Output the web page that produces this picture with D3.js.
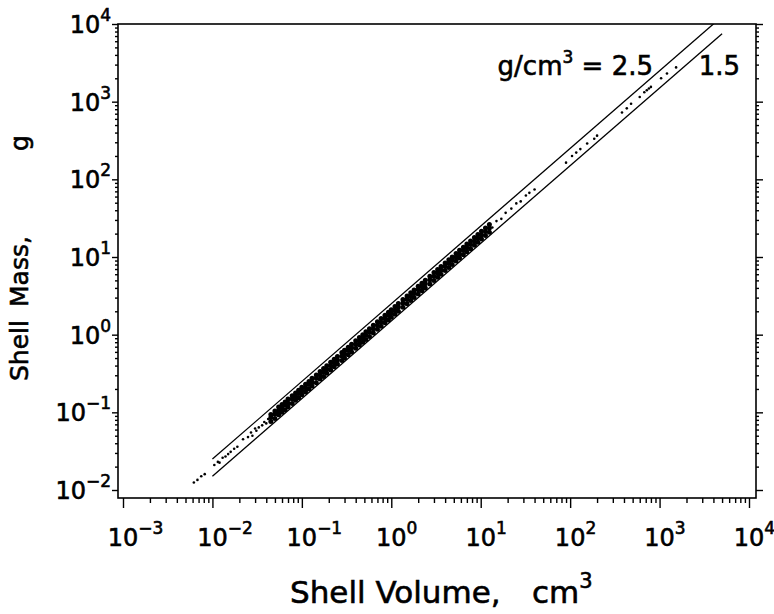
<!DOCTYPE html>
<html>
<head>
<meta charset="utf-8">
<script src="https://cdn.jsdelivr.net/npm/d3@7"></script>
<style>
    body { margin: 0; background: #fff; }
    text { font-family: "DejaVu Sans", "Liberation Sans", sans-serif; fill: #000; stroke: #000; stroke-width: 0.6px; }
</style>
</head>
<body>
<div id="chart"></div>
<script>

// tick exponents of the two log axes
const xTickExps = [-3, -2, -1, 0, 1, 2, 3, 4];
const yTickExps = [-2, -1, 0, 1, 2, 3, 4];

// reference density lines, g/cm3, drawn over this volume range
const densities = [2.5, 1.5];
const densityVolumeRange = [0.01, 5000];

// shells: [volume cm3, mass g], sparse small ones
const smallShells = [
    [0.0062, 0.0125], [0.0068, 0.0135], [0.0075, 0.015], [0.0082, 0.016],
    [0.0105, 0.021], [0.0115, 0.023], [0.012, 0.0225], [0.013, 0.026],
    [0.014, 0.027], [0.015, 0.029], [0.016, 0.031], [0.0175, 0.034],
    [0.019, 0.036], [0.022, 0.045], [0.025, 0.048], [0.027, 0.055],
    [0.028, 0.05], [0.030, 0.062], [0.031, 0.058], [0.033, 0.064],
    [0.036, 0.068], [0.038, 0.075], [0.040, 0.072], [0.042, 0.082]
];

// dense band: volume, then three masses read across the band
const bandShells = [
    [0.045, 0.076, 0.086, 0.094], [0.05, 0.083, 0.095, 0.104],
    [0.055, 0.093, 0.104, 0.117], [0.06, 0.1, 0.113, 0.126],
    [0.065, 0.108, 0.124, 0.136], [0.07, 0.118, 0.132, 0.148],
    [0.078, 0.13, 0.148, 0.163], [0.085, 0.143, 0.16, 0.178],
    [0.092, 0.154, 0.175, 0.193], [0.1, 0.168, 0.19, 0.21],
    [0.11, 0.183, 0.208, 0.23], [0.12, 0.2, 0.228, 0.25],
    [0.13, 0.218, 0.245, 0.274], [0.145, 0.24, 0.275, 0.303],
    [0.16, 0.268, 0.302, 0.335], [0.175, 0.29, 0.33, 0.368],
    [0.19, 0.318, 0.36, 0.397], [0.21, 0.35, 0.398, 0.44],
    [0.23, 0.385, 0.435, 0.482], [0.25, 0.418, 0.472, 0.525],
    [0.28, 0.466, 0.53, 0.588], [0.3, 0.5, 0.566, 0.63],
    [0.33, 0.55, 0.624, 0.69], [0.36, 0.6, 0.68, 0.755],
    [0.4, 0.668, 0.756, 0.838], [0.44, 0.735, 0.83, 0.92],
    [0.48, 0.8, 0.905, 1.0], [0.52, 0.866, 0.98, 1.09],
    [0.57, 0.95, 1.08, 1.19], [0.63, 1.05, 1.19, 1.32],
    [0.7, 1.17, 1.32, 1.47], [0.77, 1.28, 1.45, 1.61],
    [0.85, 1.42, 1.6, 1.78], [0.93, 1.55, 1.76, 1.95],
    [1.0, 1.67, 1.89, 2.1], [1.1, 1.83, 2.07, 2.3],
    [1.2, 2.0, 2.27, 2.52], [1.35, 2.25, 2.55, 2.83],
    [1.5, 2.5, 2.83, 3.14], [1.65, 2.75, 3.1, 3.46],
    [1.8, 3.0, 3.4, 3.77], [2.0, 3.34, 3.78, 4.2],
    [2.2, 3.67, 4.15, 4.6], [2.4, 4.0, 4.53, 5.03],
    [2.7, 4.5, 5.1, 5.66], [3.0, 5.0, 5.66, 6.3],
    [3.3, 5.5, 6.24, 6.9], [3.6, 6.0, 6.8, 7.55],
    [4.0, 6.68, 7.56, 8.38], [4.4, 7.35, 8.3, 9.2],
    [4.8, 8.0, 9.05, 10.0], [5.3, 8.85, 10.0, 11.1],
    [5.8, 9.7, 10.9, 12.2], [6.4, 10.7, 12.1, 13.4],
    [7.0, 11.7, 13.2, 14.7], [7.7, 12.8, 14.5, 16.1],
    [8.5, 14.2, 16.0, 17.8], [9.3, 15.5, 17.6, 19.5],
    [10.2, 17.0, 19.2, 21.4], [11.3, 18.9, 21.3, 23.7],
    [12.5, 20.8, 23.6, 26.2]
];

// sparse large shells
const largeShells = [
    [13.5, 24], [15, 29], [17, 31], [19, 37], [22, 42], [25, 49], [28, 52],
    [32, 62], [35, 67], [40, 74], [90, 164], [105, 200], [117, 221],
    [130, 245], [155, 289], [186, 333], [200, 365], [380, 725], [430, 820],
    [480, 940], [600, 1150], [675, 1320], [720, 1400], [760, 1480],
    [800, 1550], [1040, 2000], [1210, 2300], [1530, 2760]
];

const width = 774, height = 614;
const frame = {left: 118, right: 756, top: 24, bottom: 498};

const svg = d3.select("#chart").append("svg")
    .attr("width", width)
    .attr("height", height);

const x = d3.scaleLog().domain([1e-3, 1e4]).range([123, 749]);
const y = d3.scaleLog().domain([1e-2, 1e4]).range([490, 24]);

// minor ticks 2..9 inside each decade
function minors(exps) {
    let out = [];
    exps.slice(0, -1).forEach(e => {
        for (let k = 2; k <= 9; k++) out.push(k * Math.pow(10, e));
    });
    return out;
}
const xMajor = xTickExps.map(e => Math.pow(10, e));
const yMajor = yTickExps.map(e => Math.pow(10, e));

// frame
svg.append("rect")
    .attr("x", frame.left).attr("y", frame.top)
    .attr("width", frame.right - frame.left)
    .attr("height", frame.bottom - frame.top)
    .attr("fill", "none").attr("stroke", "#000").attr("stroke-width", 1.6);

function tickAxis(axis, transform, values, size) {
    let g = svg.append("g")
        .attr("transform", transform)
        .call(axis.tickValues(values).tickSize(size).tickFormat(""));
    g.select(".domain").remove();
    g.selectAll("line").attr("stroke", "#000").attr("stroke-width", 1.4);
}

// bottom axis ticks
tickAxis(d3.axisBottom(x), `translate(0,${frame.bottom})`, xMajor, 10);
tickAxis(d3.axisBottom(x), `translate(0,${frame.bottom})`, minors(xTickExps), 5);
// left and right axis ticks
tickAxis(d3.axisLeft(y), `translate(${frame.left},0)`, yMajor, 6);
tickAxis(d3.axisLeft(y), `translate(${frame.left},0)`, minors(yTickExps), 3);
tickAxis(d3.axisRight(y), `translate(${frame.right},0)`, yMajor, 7);
tickAxis(d3.axisRight(y), `translate(${frame.right},0)`, minors(yTickExps), 3);

function expText(e) { return e < 0 ? "\u2212" + (-e) : String(e); }

// x tick labels, "10" centred on the tick
xTickExps.forEach(e => {
    let t = svg.append("text")
        .attr("y", 546)
        .style("font-size", "24px");
    let base = t.append("tspan").text("10");
    t.append("tspan").attr("dy", -12).style("font-size", "17px").text(expText(e));
    let w = base.node().getComputedTextLength();
    t.attr("x", x(Math.pow(10, e)) - w / 2);
});

// y tick labels
yTickExps.forEach(e => {
    let t = svg.append("text")
        .attr("x", 111)
        .attr("y", y(Math.pow(10, e)) + 9)
        .attr("text-anchor", "end")
        .style("font-size", "24px");
    t.append("tspan").text("10");
    t.append("tspan").attr("dy", -12).style("font-size", "17px").text(expText(e));
});

// plot clip
svg.append("clipPath").attr("id", "plotClip")
    .append("rect")
    .attr("x", frame.left).attr("y", frame.top)
    .attr("width", frame.right - frame.left)
    .attr("height", frame.bottom - frame.top);

const plot = svg.append("g").attr("clip-path", "url(#plotClip)");

// density lines
const line = d3.line().x(d => x(d[0])).y(d => y(d[1]));
plot.selectAll(".density")
    .data(densities)
    .join("path")
    .attr("class", "density")
    .attr("fill", "none")
    .attr("stroke", "#000")
    .attr("stroke-width", 1.3)
    .attr("d", dens => line(densityVolumeRange.map(v => [v, v * dens])));

// shell points
let bandPoints = [];
bandShells.forEach(row => row.slice(1).forEach(m => bandPoints.push([row[0], m])));

plot.selectAll(".band")
    .data(bandPoints)
    .join("circle")
    .attr("class", "band")
    .attr("cx", d => x(d[0]))
    .attr("cy", d => y(d[1]))
    .attr("r", 2.5)
    .attr("fill", "#000");

plot.selectAll(".sparse")
    .data(smallShells.concat(largeShells))
    .join("circle")
    .attr("class", "sparse")
    .attr("cx", d => x(d[0]))
    .attr("cy", d => y(d[1]))
    .attr("r", 1.3)
    .attr("fill", "#000");

// density labels
let lab = svg.append("text")
    .attr("x", 653).attr("y", 75)
    .attr("text-anchor", "end")
    .style("font-size", "26px");
lab.append("tspan").text("g/cm");
lab.append("tspan").attr("dy", -12).style("font-size", "17px").text("3");
lab.append("tspan").attr("dy", 12).text(" = 2.5");

svg.append("text").attr("x", 740).attr("y", 75)
    .attr("text-anchor", "end")
    .style("font-size", "26px").text("1.5");

// axis titles
let xt = svg.append("text").attr("x", 290).attr("y", 603).style("font-size", "31px");
xt.append("tspan").text("Shell Volume,");
xt.append("tspan").attr("x", 532).text("cm");
xt.append("tspan").attr("dy", -15).style("font-size", "21px").text("3");

let yt = svg.append("text")
    .attr("transform", "translate(28,381) rotate(-90)")
    .style("font-size", "25px");
yt.append("tspan").attr("x", 0).text("Shell");
yt.append("tspan").attr("x", 74).text("Mass,");
yt.append("tspan").attr("x", 230).text("g");

</script>
</body>
</html>
